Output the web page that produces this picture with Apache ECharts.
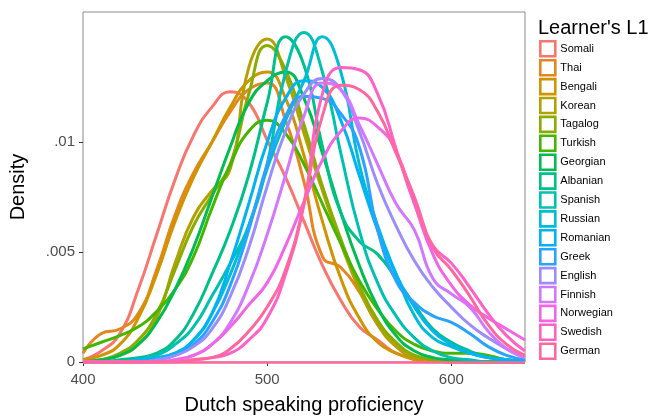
<!DOCTYPE html>
<html>
<head>
<meta charset="utf-8">
<script src="https://cdn.jsdelivr.net/npm/echarts@6/dist/echarts.min.js"></script>
<style>
html,body{margin:0;padding:0;background:#fff;}
#chart{width:651px;height:420px;}
</style>
</head>
<body>
<div id="chart"></div>
<script>
// x grid of the density estimates (Dutch speaking proficiency)
var xs=[400,410,420,430,440,450,460,470,480,490,500,510,520,530,540,550,560,570,580,590,600,610,620,630,640];

var languages=["Somali","Thai","Bengali","Korean","Tagalog","Turkish","Georgian","Albanian","Spanish","Russian","Romanian","Greek","English","Finnish","Norwegian","Swedish","German"];

var Somali   =[0.0001,0.0005,0.0013,0.0033,0.0058,0.0083,0.0103,0.0116,0.0123,0.0118,0.0101,0.0084,0.0064,0.0044,0.0028,0.0016,0.0010,0.0004,0.0002,0.0001,0,0,0,0,0];
var Thai     =[0.0004,0.0013,0.0015,0.0022,0.0042,0.0067,0.0086,0.0100,0.0114,0.0124,0.0127,0.0110,0.0082,0.0048,0.0043,0.0032,0.0017,0.0008,0.0003,0.0001,0,0,0,0,0];
var Bengali  =[0.0001,0.0003,0.0008,0.0020,0.0040,0.0064,0.0084,0.0100,0.0116,0.0128,0.0132,0.0120,0.0094,0.0064,0.0038,0.0020,0.0009,0.0004,0.0001,0,0,0,0,0,0];
var Korean   =[0,0.0001,0.0003,0.0008,0.0020,0.0045,0.0066,0.0078,0.0088,0.0134,0.0147,0.0130,0.0104,0.0078,0.0054,0.0033,0.0017,0.0007,0.0002,0.0001,0,0,0,0,0];
var Tagalog  =[0,0.0001,0.0004,0.0010,0.0022,0.0042,0.0062,0.0076,0.0090,0.0122,0.0144,0.0133,0.0108,0.0080,0.0056,0.0035,0.0019,0.0009,0.0003,0.0001,0,0,0,0,0];
var Turkish  =[0.0006,0.0009,0.0012,0.0016,0.0023,0.0033,0.0048,0.0070,0.0090,0.0105,0.0110,0.0104,0.0090,0.0072,0.0054,0.0037,0.0024,0.0014,0.0008,0.0005,0.0004,0.0004,0.0003,0.0001,0];
var Georgian =[0,0.0001,0.0003,0.0008,0.0018,0.0033,0.0052,0.0075,0.0098,0.0118,0.0128,0.0132,0.0120,0.0095,0.0068,0.0044,0.0025,0.0012,0.0005,0.0002,0.0001,0,0,0,0];
var Albanian =[0,0,0.0001,0.0002,0.0004,0.0010,0.0022,0.0040,0.0060,0.0085,0.0118,0.0148,0.0135,0.0098,0.0068,0.0055,0.0049,0.0038,0.0026,0.0015,0.0009,0.0005,0.0002,0.0001,0];
var Spanish  =[0,0,0,0.0001,0.0003,0.0008,0.0016,0.0030,0.0045,0.0062,0.0090,0.0132,0.0150,0.0132,0.0095,0.0060,0.0036,0.0021,0.0011,0.0005,0.0002,0.0001,0,0,0];
var Russian  =[0,0,0,0.0001,0.0002,0.0004,0.0010,0.0022,0.0040,0.0062,0.0088,0.0110,0.0128,0.0148,0.0132,0.0090,0.0062,0.0040,0.0021,0.0011,0.0007,0.0004,0.0002,0.0001,0];
var Romanian =[0,0,0,0.0001,0.0002,0.0004,0.0010,0.0022,0.0045,0.0072,0.0100,0.0120,0.0128,0.0125,0.0110,0.0085,0.0060,0.0040,0.0025,0.0014,0.0008,0.0004,0.0002,0.0001,0];
var Greek    =[0,0,0,0,0.0001,0.0003,0.0008,0.0018,0.0035,0.0060,0.0090,0.0112,0.0121,0.0120,0.0113,0.0098,0.0060,0.0037,0.0027,0.0021,0.0018,0.0013,0.0007,0.0003,0.0001];
var English  =[0,0,0,0,0.0001,0.0003,0.0007,0.0015,0.0030,0.0052,0.0080,0.0105,0.0122,0.0129,0.0124,0.0105,0.0081,0.0062,0.0046,0.0034,0.0025,0.0017,0.0011,0.0006,0.0002];
var Finnish  =[0,0,0,0,0,0.0001,0.0003,0.0008,0.0018,0.0035,0.0058,0.0085,0.0112,0.0127,0.0124,0.0108,0.0090,0.0072,0.0060,0.0038,0.0031,0.0025,0.0014,0.0006,0.0002];
var Norwegian=[0,0,0,0,0,0.0001,0.0003,0.0008,0.0016,0.0026,0.0036,0.0053,0.0073,0.0092,0.0105,0.0111,0.0107,0.0096,0.0072,0.0049,0.0035,0.0026,0.0020,0.0015,0.0010];
var Swedish  =[0,0,0,0,0,0,0.0001,0.0002,0.0004,0.0010,0.0020,0.0040,0.0072,0.0122,0.0134,0.0133,0.0122,0.0097,0.0072,0.0053,0.0045,0.0034,0.0022,0.0012,0.0005];
var German   =[0,0,0,0,0,0,0.0001,0.0002,0.0006,0.0014,0.0025,0.0042,0.0072,0.0112,0.0126,0.0124,0.0114,0.0095,0.0075,0.0052,0.0042,0.0030,0.0017,0.0008,0.0003];

var densities=[Somali,Thai,Bengali,Korean,Tagalog,Turkish,Georgian,Albanian,Spanish,Russian,Romanian,Greek,English,Finnish,Norwegian,Swedish,German];

var xTicks=[400,500,600];
var yTicks=[0,0.005,0.01];

// ggplot default hue palette: hcl(h, c=100, l=65)
function hcl(h,c,l){
  var WY=100,Wu=0.1978398,Wv=0.4683363;
  var hr=h*Math.PI/180;
  var U=c*Math.cos(hr),V=c*Math.sin(hr);
  var Y=WY*(l>7.999592?Math.pow((l+16)/116,3):l/903.3);
  var u=U/(13*l)+Wu, v=V/(13*l)+Wv;
  var X=9*Y*u/(4*v);
  var Z=-X/3-5*Y+3*Y/v;
  function g(t){return t>0.00304?1.055*Math.pow(t,1/2.4)-0.055:12.92*t;}
  var rgb=[g((3.240479*X-1.537150*Y-0.498535*Z)/WY),
           g((-0.969256*X+1.875992*Y+0.041556*Z)/WY),
           g((0.055648*X-0.204043*Y+1.057311*Z)/WY)];
  return '#'+rgb.map(function(t){
    t=Math.max(0,Math.min(1,t));
    var s=Math.round(t*255).toString(16);
    return s.length<2?'0'+s:s;
  }).join('');
}
var n=languages.length;
var colors=languages.map(function(_,i){return hcl(15+360*i/n,100,65);});

var font='"Liberation Sans", Arial, sans-serif';

var series=languages.map(function(name,i){
  var s={
    name:name,
    type:'line',
    smooth:true,
    symbol:'none',
    data:xs.map(function(x,j){return [x,densities[i][j]];}),
    lineStyle:{color:colors[i],width:3},
    itemStyle:{color:colors[i]},
    animation:false
  };
  if(name==="German"){
    // bottom edge of the density outline
    s.markLine={silent:true,symbol:'none',label:{show:false},animation:false,
      lineStyle:{color:colors[i],width:2.6,type:'solid'},data:[{yAxis:0}]};
  }
  return s;
});

var chart=echarts.init(document.getElementById("chart"),null,{renderer:'canvas'});
chart.setOption({
  backgroundColor:'#fff',
  animation:false,
  title:{
    text:"Learner's L1",left:538,top:18,padding:0,
    textStyle:{fontFamily:font,fontSize:20,fontWeight:'normal',color:'#000'}
  },
  legend:{
    orient:'vertical',left:539,top:40,padding:0,
    itemWidth:15,itemHeight:15,itemGap:1.3,
    icon:'rect',
    selectedMode:false,
    textStyle:{fontFamily:font,fontSize:11,color:'#000'},
    data:languages.map(function(name,i){
      return {name:name,itemStyle:{color:'#fff',borderColor:colors[i],borderWidth:2.6}};
    })
  },
  grid:{left:82,right:126,top:12,bottom:54,show:true,borderColor:'#8a8a8a',borderWidth:1,backgroundColor:'#fff'},
  xAxis:{
    type:'value',min:400,max:640,
    name:'Dutch speaking proficiency',nameLocation:'middle',nameGap:33,
    nameTextStyle:{fontFamily:font,fontSize:20,color:'#000'},
    axisLine:{show:false},
    axisTick:{show:true,length:4,lineStyle:{color:'#333'},customValues:xTicks},
    axisLabel:{fontFamily:font,fontSize:15,color:'#4d4d4d',margin:10,customValues:xTicks},
    splitLine:{show:false}
  },
  yAxis:{
    type:'value',min:0,max:0.01593,
    name:'Density',nameLocation:'middle',nameGap:55,nameRotate:90,
    nameTextStyle:{fontFamily:font,fontSize:20,color:'#000'},
    axisLine:{show:false},
    axisTick:{show:true,length:4,lineStyle:{color:'#333'},customValues:yTicks},
    axisLabel:{fontFamily:font,fontSize:15,color:'#4d4d4d',margin:8,customValues:yTicks,
      formatter:function(v){return String(v).replace(/^0\./,'.');}},
    splitLine:{show:false}
  },
  series:series
});
</script>
</body>
</html>
